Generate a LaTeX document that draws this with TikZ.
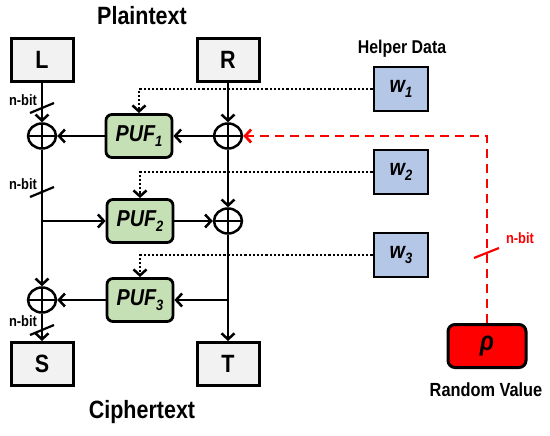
\documentclass[tikz,border=0pt]{standalone}
\usepackage{fontspec}
\setmainfont{Liberation Sans}[FakeStretch=0.86]
\usepackage{xcolor}
\usetikzlibrary{arrows.meta,shapes.geometric}

\definecolor{boxgray}{HTML}{F2F2F2}
\definecolor{pufgreen}{HTML}{C5E0B4}
\definecolor{wblue}{HTML}{B4C7E7}
\newcommand\lowidx[1]{\raisebox{-0.22em}{\fontsize{15}{15}\selectfont #1}}

\begin{document}
\begin{tikzpicture}[x=1pt,y=-1pt,
    title/.style={font=\bfseries\fontsize{25}{28}\selectfont},
    caption/.style={font=\bfseries\fontsize{18.5}{20}\selectfont},
    halfbox/.style={draw,line width=3pt,fill=boxgray,minimum width=62pt,minimum height=43pt,
        inner sep=0pt,font=\bfseries\fontsize{25}{28}\selectfont},
    pufbox/.style={draw,line width=2.8pt,rounded corners=6pt,fill=pufgreen,minimum width=66pt,
        minimum height=43pt,inner sep=0pt,font=\bfseries\itshape\fontsize{23}{26}\selectfont},
    wbox/.style={draw,line width=2.8pt,fill=wblue,minimum width=54pt,minimum height=44pt,
        inner sep=0pt,font=\bfseries\itshape\fontsize{23}{26}\selectfont},
    xor/.style={draw,ellipse,line width=2.5pt,minimum width=28pt,minimum height=25pt,inner sep=0pt,
        path picture={\draw[line width=2.5pt] (path picture bounding box.north) -- (path picture bounding box.south)
            (path picture bounding box.west) -- (path picture bounding box.east);}},
    arr/.style={line width=2.5pt,-{Straight Barb[length=6pt,width=13pt,line width=2.5pt]}},
    hdata/.style={arr,dash pattern=on 2.2pt off 2pt},
    rnd/.style={red,line width=2.8pt,dash pattern=on 9pt off 6pt},
    nbit/.style={font=\bfseries\fontsize{15}{16}\selectfont},
    slash/.style={line width=2.2pt}]
    \useasboundingbox (0,0) rectangle (550,436);

    % Titles
    \node[title] (plain) at (142,16) {Plaintext};
    \node[title] (cipher) at (142,412) {Ciphertext};

    % Halves
    \node[halfbox] (L) at (42,60) {L};
    \node[halfbox] (R) at (228,60) {R};
    \node[halfbox] (S) at (42,364) {S};
    \node[halfbox] (T) at (228,364) {T};

    % PUF rounds and XORs
    \node[xor] (xl1) at (42,136) {};
    \node[xor] (xr1) at (228,136) {};
    \node[xor] (xr2) at (228,221) {};
    \node[xor] (xl3) at (42,300) {};
    \node[pufbox] (puf1) at (139,136) {PUF\lowidx{1}};
    \node[pufbox] (puf2) at (140,221) {PUF\lowidx{2}};
    \node[pufbox] (puf3) at (140,300) {PUF\lowidx{3}};
    \coordinate (b2) at (42,221);
    \coordinate (b3) at (228,300);

    % Helper data
    \node[caption] (helper) at (402,49) {Helper Data};
    \node[wbox] (w1) at (401,89) {w\lowidx{1}};
    \node[wbox] (w2) at (401,172) {w\lowidx{2}};
    \node[wbox] (w3) at (401,255) {w\lowidx{3}};
    \coordinate (d1) at (puf1.north |- w1.west);
    \coordinate (d2) at (puf2.north |- w2.west);
    \coordinate (d3) at (puf3.north |- w3.west);

    % Random value
    \node[draw,line width=3pt,rounded corners=7pt,fill=red,minimum width=78pt,minimum height=43pt,
        font=\bfseries\itshape\fontsize{27}{28}\selectfont] (rho) at (487,346) {ρ};
    \node[caption,font=\bfseries\fontsize{19}{20}\selectfont] (random) at (486,390) {Random Value};
    \coordinate (corner) at (rho.north |- xr1.east);

    % Left wire
    \draw[arr] (L) -- (xl1);
    \draw[arr] (xl1) -- (xl3);
    \draw[arr] (xl3) -- (S);
    \draw[arr] (b2) -- (puf2);

    % Right wire
    \draw[arr] (R) -- (xr1);
    \draw[arr] (xr1) -- (xr2);
    \draw[arr] (xr2) -- (T);
    \draw[arr] (b3) -- (puf3);

    % Round functions
    \draw[arr] (xr1) -- (puf1);
    \draw[arr] (puf1) -- (xl1);
    \draw[arr] (puf2) -- (xr2);
    \draw[arr] (puf3) -- (xl3);

    % Helper data into PUFs
    \draw[hdata] (w1.west) -- (d1) -- (puf1.north);
    \draw[hdata] (w2.west) -- (d2) -- (puf2.north);
    \draw[hdata] (w3.west) -- (d3) -- (puf3.north);

    % Random value into first XOR
    \draw[rnd,-{Straight Barb[length=6pt,width=13pt,line width=2.8pt]}] (rho.north) -- (corner) -- (xr1.east);

    % Bus widths
    \draw[slash] (30,113) -- (54,103);
    \draw[slash] (30,197) -- (54,187);
    \draw[slash] (30,335) -- (54,325);
    \draw[slash,red] (474,258) -- (499,248);
    \node[nbit] (n1) at (23,100) {n-bit};
    \node[nbit] (n2) at (23,184) {n-bit};
    \node[nbit] (n3) at (23,321) {n-bit};
    \node[nbit,red] (n4) at (520,238) {n-bit};
\end{tikzpicture}
\end{document}
